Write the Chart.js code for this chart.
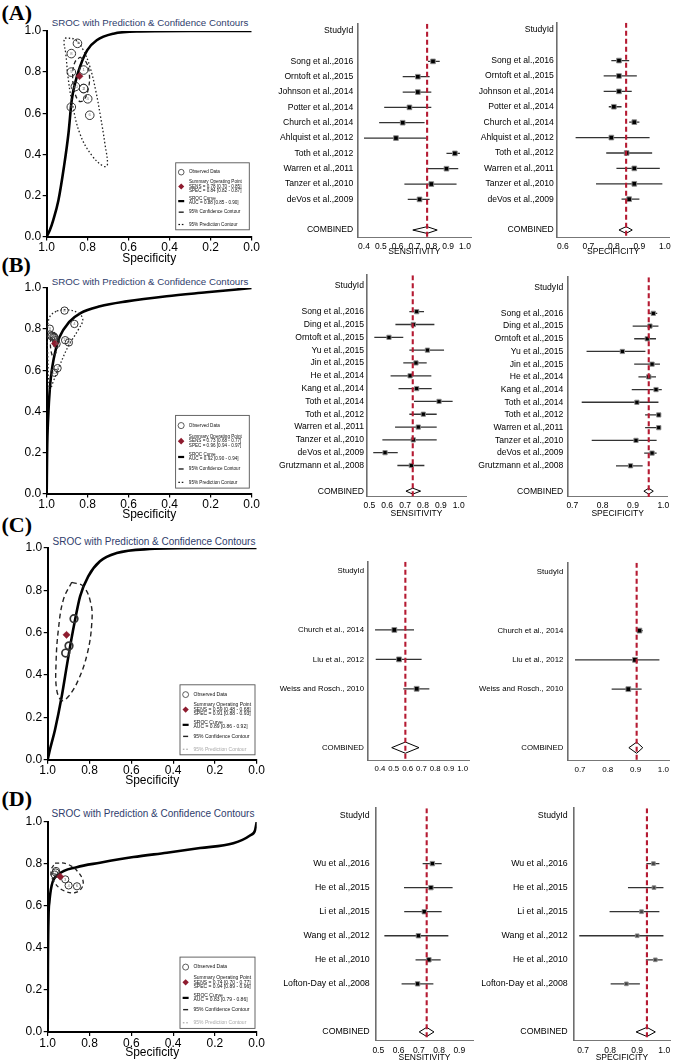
<!DOCTYPE html>
<html><head><meta charset="utf-8">
<script src="https://cdn.jsdelivr.net/npm/chart.js@4.4.1/dist/chart.umd.min.js"></script>
<style>
html,body{margin:0;padding:0;background:#fff}
body{position:relative;width:675px;height:1062px;overflow:hidden}
canvas{position:absolute}
.plab{position:absolute;font-family:"Liberation Serif","Times New Roman",serif;font-weight:bold;font-size:22px;line-height:22px;color:#000;white-space:nowrap}
.stitle{position:absolute;font-family:"Liberation Sans",Arial,sans-serif;color:#2f3d6c;white-space:nowrap;transform:translate(-50%,-50%);line-height:1}
</style></head><body>
<script>
// ================= DATA =================
// ---- Panel A ----
const studiesA = ["Song et al.,2016","Orntoft et al.,2015","Johnson et al.,2014","Potter et al.,2014","Church et al.,2014","Ahlquist et al.,2012","Toth et al.,2012","Warren et al.,2011","Tanzer et al.,2010","deVos et al.,2009"];
const sensA   = [0.81,0.72,0.72,0.67,0.63,0.59,0.94,0.89,0.80,0.73];
const sensLoA = [0.78,0.63,0.63,0.52,0.49,0.40,0.89,0.78,0.64,0.66];
const sensHiA = [0.85,0.79,0.80,0.80,0.76,0.77,0.97,0.96,0.95,0.79];
const specA   = [0.82,0.82,0.82,0.80,0.88,0.79,0.85,0.88,0.88,0.86];
const specLoA = [0.79,0.76,0.76,0.78,0.86,0.65,0.77,0.81,0.73,0.83];
const specHiA = [0.86,0.89,0.87,0.83,0.90,0.94,0.95,0.98,0.99,0.90];
const combSensA = [0.775,0.69,0.835];
const combSpecA = [0.848,0.82,0.872];
const legSensA = [0.78,0.70,0.85], legSpecA = [0.84,0.82,0.87], legAucA = [0.88,0.85,0.90];
const curveSpecA = [1.0,0.985,0.968,0.943,0.916,0.894,0.878,0.862,0.838,0.802,0.756,0.675,0.545,0.30,0.0];
const curveSensA = [0.0,0.03,0.08,0.175,0.338,0.5,0.663,0.744,0.825,0.907,0.955,0.987,0.998,1.0,1.0];
const predSpecA = [0.911,0.862,0.821,0.789,0.761,0.737,0.716,0.704,0.724,0.78,0.838,0.878,0.896,0.907,0.916,0.911];
const predSensA = [0.966,0.958,0.906,0.825,0.711,0.581,0.451,0.346,0.342,0.395,0.50,0.662,0.776,0.89,0.946,0.966];
const confSpecA = [0.838,0.808,0.792,0.797,0.821,0.846,0.867,0.873,0.862,0.838];
const confSensA = [0.873,0.849,0.792,0.719,0.662,0.662,0.719,0.792,0.849,0.873];

// ---- Panel B ----
const studiesB = ["Song et al.,2016","Ding et al.,2015","Orntoft et al.,2015","Yu et al.,2015","Jin et al.,2015","He et al.,2014","Kang et al.,2014","Toth et al.,2014","Toth et al.,2012","Warren et al.,2011","Tanzer et al.,2010","deVos et al.,2009","Grutzmann et al.,2008"];
const sensB   = [0.765,0.746,0.610,0.825,0.761,0.728,0.765,0.890,0.802,0.774,0.746,0.588,0.735];
const sensLoB = [0.724,0.646,0.528,0.724,0.690,0.619,0.663,0.750,0.724,0.644,0.573,0.522,0.657];
const sensHiB = [0.806,0.864,0.690,0.918,0.821,0.847,0.849,0.966,0.877,0.877,0.877,0.659,0.808];
const specB   = [0.967,0.956,0.947,0.865,0.963,0.952,0.976,0.913,0.985,0.985,0.910,0.963,0.892];
const specLoB = [0.951,0.899,0.904,0.747,0.904,0.918,0.896,0.731,0.940,0.940,0.764,0.937,0.844];
const specHiB = [0.980,0.984,0.976,0.941,0.989,0.976,0.995,0.984,0.991,0.991,0.978,0.978,0.932];
const combSensB = [0.743,0.705,0.787];
const combSpecB = [0.952,0.936,0.967];
const legSensB = [0.73,0.68,0.77], legSpecB = [0.96,0.94,0.97], legAucB = [0.92,0.90,0.94];
const curveSpecB = [1.0,0.998,0.993,0.984,0.972,0.958,0.938,0.89,0.835,0.74,0.61,0.415,0.22,0.0];
const curveSensB = [0.0,0.2,0.367,0.52,0.62,0.691,0.76,0.835,0.878,0.911,0.935,0.96,0.979,1.0];
const predSpecB = [0.951,0.902,0.846,0.824,0.846,0.895,0.935,0.968,0.984,0.99,0.995,0.997,0.984,0.951];
const predSensB = [0.889,0.894,0.878,0.846,0.797,0.716,0.627,0.545,0.505,0.545,0.675,0.789,0.862,0.889];
const confSpecB = [0.964,0.948,0.951,0.968,0.98,0.979,0.964];
const confSensB = [0.786,0.757,0.70,0.667,0.70,0.757,0.786];

// ---- Panel C ----
const studiesC = ["Church et al., 2014","Liu et al., 2012","Weiss and Rosch., 2010"];
const sensC   = [0.504,0.538,0.666];
const sensLoC = [0.364,0.369,0.569];
const sensHiC = [0.647,0.702,0.758];
const specC   = [0.914,0.898,0.874];
const specLoC = [0.902,0.682,0.814];
const specHiC = [0.926,0.986,0.922];
const combSensC = [0.584,0.485,0.683];
const combSpecC = [0.904,0.876,0.926];
const legSensC = [0.59,0.48,0.68], legSpecC = [0.91,0.88,0.93], legAucC = [0.89,0.86,0.92];
const curveSpecC = [1.0,0.99,0.965,0.933,0.909,0.89,0.869,0.845,0.806,0.75,0.67,0.511,0.25,0.0];
const curveSensC = [0.0,0.045,0.142,0.299,0.441,0.551,0.661,0.772,0.866,0.937,0.976,0.995,1.0,1.0];
const confSpecC = [0.885,0.83,0.794,0.789,0.81,0.853,0.901,0.933,0.957,0.96,0.949,0.925,0.885];
const confSensC = [0.838,0.819,0.74,0.646,0.504,0.378,0.299,0.28,0.331,0.457,0.614,0.756,0.838];

// ---- Panel D ----
const studiesD = ["Wu et al.,2016","He et al.,2015","Li et al.,2015","Wang et al.,2012","He et al.,2010","Lofton-Day et al.,2008"];
const sensD   = [0.767,0.760,0.727,0.698,0.750,0.694];
const sensLoD = [0.719,0.627,0.628,0.530,0.684,0.615];
const sensHiD = [0.813,0.867,0.813,0.846,0.808,0.772];
const specD   = [0.960,0.962,0.916,0.900,0.967,0.860];
const specLoD = [0.934,0.866,0.798,0.686,0.932,0.802];
const specHiD = [0.982,0.997,0.982,0.997,0.994,0.910];
const combSensD = [0.739,0.702,0.775];
const combSpecD = [0.936,0.896,0.967];
const legSensD = [0.74,0.70,0.77], legSpecD = [0.94,0.89,0.96], legAucD = [0.83,0.79,0.86];
const curveSpecD = [1.0,0.999,0.996,0.992,0.981,0.949,0.861,0.75,0.59,0.43,0.271,0.112,0.032,0.008,0.0];
const curveSensD = [0.0,0.3,0.55,0.618,0.698,0.749,0.785,0.806,0.833,0.854,0.876,0.899,0.936,0.96,1.0];
const confSpecD = [0.965,0.909,0.854,0.83,0.861,0.925,0.973,0.984,0.965];
const confSensD = [0.804,0.801,0.761,0.706,0.666,0.674,0.721,0.769,0.804];

// ---- tick labels ----
const srocTicks = [0.0,0.2,0.4,0.6,0.8,1.0];
const sensTicksA = [0.4,0.5,0.6,0.7,0.8,0.9,1.0];
const specTicksA = [0.6,0.7,0.8,0.9,1.0];
const sensTicksB = [0.5,0.6,0.7,0.8,0.9,1.0];
const specTicksB = [0.7,0.8,0.9,1.0];
const sensTicksC = [0.4,0.5,0.6,0.7,0.8,0.9,1.0];
const specTicksC = [0.7,0.8,0.9,1.0];
const sensTicksD = [0.5,0.6,0.7,0.8,0.9];
const specTicksD = [0.7,0.8,0.9,1.0];

// ================= RENDERING =================
const FONT = '"Liberation Sans", Arial, Helvetica, sans-serif';
Chart.defaults.font.family = FONT;
Chart.defaults.color = '#000';
Chart.defaults.animation = false;
const RED = '#b51a32', DRED = '#8e1b2e';

function mkCanvas(x, y, w, h) {
  const c = document.createElement('canvas');
  c.width = w; c.height = h;
  c.style.left = x + 'px'; c.style.top = y + 'px';
  c.style.width = w + 'px'; c.style.height = h + 'px';
  document.body.appendChild(c);
  return c;
}
function addDiv(cls, text, x, y, extra) {
  const d = document.createElement('div');
  d.className = cls; d.textContent = text;
  d.style.left = x + 'px'; d.style.top = y + 'px';
  Object.assign(d.style, extra || {});
  document.body.appendChild(d);
}
const zip = (xs, ys) => xs.map((x, i) => ({x, y: ys[i]}));
const f2 = v => v.toFixed(2);

function legendPlugin(o) {
  return {
    id: 'srocLegend',
    afterDatasetsDraw(chart) {
      const ctx = chart.ctx;
      chart.data.datasets.forEach((ds, di) => {
        if (!ds.numbered) return;
        const meta = chart.getDatasetMeta(di);
        ctx.save();
        ctx.font = '4.2px ' + FONT; ctx.fillStyle = '#777';
        ctx.textAlign = 'center'; ctx.textBaseline = 'middle';
        meta.data.forEach((pt, i) => ctx.fillText(String(i + 1), pt.x, pt.y));
        ctx.restore();
      });
    },
    afterDraw(chart) {
      const ctx = chart.ctx, ca = chart.chartArea;
      const R = ca.right - o.dr, B = ca.bottom - o.db, L = R - o.w, T = B - o.h;
      const Y = fr => T + o.h * fr;
      const sx = L + o.w * 0.075, tx = L + o.w * 0.18, mw = R - tx - 2;
      ctx.save();
      ctx.fillStyle = '#fff'; ctx.fillRect(L, T, o.w, o.h);
      ctx.strokeStyle = '#555'; ctx.lineWidth = 0.9; ctx.strokeRect(L, T, o.w, o.h);
      ctx.font = o.fs + 'px ' + FONT; ctx.textBaseline = 'middle'; ctx.textAlign = 'left';
      ctx.fillStyle = '#111';
      ctx.beginPath(); ctx.arc(sx, Y(0.14), o.h * 0.042, 0, Math.PI * 2);
      ctx.strokeStyle = '#333'; ctx.lineWidth = 0.8; ctx.stroke();
      ctx.fillText('Observed Data', tx, Y(0.14), mw);
      const d = o.h * 0.045, sy = Y(0.354);
      ctx.beginPath(); ctx.moveTo(sx, sy - d); ctx.lineTo(sx + d, sy); ctx.lineTo(sx, sy + d); ctx.lineTo(sx - d, sy); ctx.closePath();
      ctx.fillStyle = DRED; ctx.fill();
      ctx.fillStyle = '#111';
      ctx.fillText('Summary Operating Point', tx, Y(0.29), mw);
      ctx.fillText('SENS = ' + f2(o.sens[0]) + ' [' + f2(o.sens[1]) + ' - ' + f2(o.sens[2]) + ']', tx, Y(0.354), mw);
      ctx.fillText('SPEC = ' + f2(o.spec[0]) + ' [' + f2(o.spec[1]) + ' - ' + f2(o.spec[2]) + ']', tx, Y(0.413), mw);
      ctx.fillStyle = '#000'; ctx.fillRect(sx - 3, Y(0.572) - 1.1, 6, 2.2);
      ctx.fillStyle = '#111';
      ctx.fillText('SROC Curve', tx, Y(0.537), mw);
      ctx.fillText('AUC = ' + f2(o.auc[0]) + ' [' + f2(o.auc[1]) + ' - ' + f2(o.auc[2]) + ']', tx, Y(0.597), mw);
      ctx.fillStyle = '#222'; ctx.fillRect(sx - 2.5, Y(0.737) - 0.7, 5, 1.4);
      ctx.fillStyle = '#111';
      ctx.fillText('95% Confidence Contour', tx, Y(0.737), mw);
      ctx.fillStyle = o.predColor;
      ctx.fillRect(sx - 2.8, Y(0.921) - 0.6, 1.6, 1.2);
      ctx.fillRect(sx + 0.6, Y(0.921) - 0.6, 1.6, 1.2);
      ctx.fillText('95% Prediction Contour', tx, Y(0.921), mw);
      ctx.restore();
    }
  };
}

function sroc(c) {
  const left = 0, top = c.t - 12, w = 268;
  const xH = c.titleY - c.b + 7.2;
  const h = Math.ceil(c.b - top + xH);
  const cv = mkCanvas(left, top, w, h);
  const ds = [];
  ds.push({data: zip(c.curve[0], c.curve[1]), showLine: true, borderColor: '#000', borderWidth: 2.6,
           pointRadius: 0, cubicInterpolationMode: 'monotone', order: 5});
  if (c.pred) ds.push({data: zip(c.pred[0], c.pred[1]), showLine: true, borderColor: '#222', borderWidth: 1.3,
           borderDash: [1.5, 2.2], pointRadius: 0, tension: 0.4, order: 4});
  if (c.conf) ds.push({data: zip(c.conf[0], c.conf[1]), showLine: true, borderColor: '#222', borderWidth: c.confW,
           borderDash: c.confDash, pointRadius: 0, tension: 0.4, order: 3});
  ds.push({data: zip(c.obs[0], c.obs[1]), pointRadius: c.or, pointBackgroundColor: 'rgba(255,255,255,0)',
           pointBorderColor: '#333', pointBorderWidth: c.ow, order: 2, numbered: c.numbered});
  ds.push({data: [{x: c.sum[0], y: c.sum[1]}], pointStyle: 'rectRot', pointRadius: 3.6,
           pointBackgroundColor: DRED, pointBorderColor: DRED, pointBorderWidth: 0.5, order: 1});
  new Chart(cv, {
    type: 'scatter',
    data: {datasets: ds},
    options: {
      responsive: false, devicePixelRatio: 1, animation: false, events: [],
      layout: {padding: {left: 0, top: c.t - top, right: left + w - c.r, bottom: 0}},
      plugins: {legend: {display: false}, tooltip: {enabled: false}},
      scales: {
        x: {type: 'linear', reverse: true, min: 0, max: 1,
            afterBuildTicks: a => { a.ticks = srocTicks.map(v => ({value: v})); },
            afterFit: s => { s.height = xH; },
            ticks: {callback: v => v.toFixed(1), font: {size: 12}, color: '#000', padding: 0, maxRotation: 0, autoSkip: false},
            grid: {display: true, drawOnChartArea: false, drawTicks: true, tickLength: 4, color: '#000', lineWidth: 1.2},
            border: {display: true, color: '#000', width: 2},
            title: {display: true, text: 'Specificity', font: {size: 12}, color: '#000', padding: 0}},
        y: {type: 'linear', min: 0, max: 1,
            afterBuildTicks: a => { a.ticks = srocTicks.map(v => ({value: v})); },
            afterFit: s => { s.width = c.l - left; },
            ticks: {callback: v => v.toFixed(1), font: {size: 12}, color: '#000', padding: 1.5, autoSkip: false},
            grid: {display: true, drawOnChartArea: false, drawTicks: true, tickLength: 4, color: '#000', lineWidth: 1.2},
            border: {display: true, color: '#000', width: 2}}
      }
    },
    plugins: [legendPlugin(c.legend)]
  });
}

function forest(c) {
  const top = c.t - 8;
  const xH = c.title ? (c.titleY - c.b + 5.1) : 14;
  const h = Math.ceil(c.b - top + xH);
  const w = c.cr - c.cx;
  const cv = mkCanvas(c.cx, top, w, h);
  const rowLabels = ['StudyId', ''].concat(c.studies, ['', 'COMBINED']);
  const combRow = rowLabels.length - 1;
  const ds = [];
  ds.push({data: [{x: c.comb[0], y: c.ymin}, {x: c.comb[0], y: c.ymax}], showLine: true, borderColor: RED,
           borderWidth: 2.1, borderDash: [5, 3], pointRadius: 0, order: 0});
  c.est.forEach((v, i) => {
    ds.push({data: [{x: c.lo[i], y: i + 2}, {x: c.hi[i], y: i + 2}], showLine: true, borderColor: '#333',
             borderWidth: 1.3, pointRadius: 0, order: 4});
  });
  ds.push({data: c.est.map((v, i) => ({x: v, y: i + 2})), pointStyle: 'rect', pointRadius: c.pr,
           pointBackgroundColor: c.pc, pointBorderColor: '#8c8c8c', pointBorderWidth: 0.9, order: 2});
  const [e, lo, hi] = c.comb;
  ds.push({data: [{x: lo, y: combRow}, {x: e, y: combRow - c.dh}, {x: hi, y: combRow}, {x: e, y: combRow + c.dh}, {x: lo, y: combRow}],
           showLine: true, borderColor: '#000', borderWidth: 1, pointRadius: 0, tension: 0, order: 1});
  new Chart(cv, {
    type: 'scatter',
    data: {datasets: ds},
    options: {
      responsive: false, devicePixelRatio: 1, animation: false, events: [],
      layout: {padding: {left: 0, top: c.t - top, right: c.cr - c.r, bottom: 0}},
      plugins: {legend: {display: false}, tooltip: {enabled: false}},
      scales: {
        x: {type: 'linear', min: c.xmin, max: c.xmax,
            afterBuildTicks: a => { a.ticks = c.ticks.map(v => ({value: v})); },
            afterFit: s => { s.height = xH; },
            ticks: {callback: v => v.toFixed(1), font: {size: c.tfs}, color: '#000', padding: c.tickPad, maxRotation: 0, autoSkip: false},
            grid: {display: false, drawTicks: false},
            border: {display: true, color: '#777', width: 1},
            title: {display: !!c.title, text: c.title || '', font: {size: 8.5}, color: '#000', padding: 0}},
        y: {type: 'linear', reverse: true, min: c.ymin, max: c.ymax,
            afterBuildTicks: a => { a.ticks = rowLabels.map((t, i) => ({value: i})).filter(t => rowLabels[t.value] !== ''); },
            afterFit: s => { s.width = c.l - c.cx; },
            ticks: {callback: v => rowLabels[v], font: {size: c.lfs}, color: '#000', padding: c.labPad, autoSkip: false},
            grid: {display: false, drawTicks: false},
            border: {display: true, color: '#6e6e6e', width: 1.6}}
      }
    }
  });
}

// ---------- panel labels & titles ----------
addDiv('plab', '(A)', 1.5, 2);
addDiv('plab', '(B)', 1.5, 254);
addDiv('plab', '(C)', 1.5, 513.5);
addDiv('plab', '(D)', 1.5, 788);
addDiv('stitle', 'SROC with Prediction & Confidence Contours', 150, 22.7, {fontSize: '9.7px'});
addDiv('stitle', 'SROC with Prediction & Confidence Contours', 150, 281.7, {fontSize: '9.7px'});
addDiv('stitle', 'SROC with Prediction & Confidence Contours', 154, 541.7, {fontSize: '10px'});
addDiv('stitle', 'SROC with Prediction & Confidence Contours', 153, 814, {fontSize: '10px'});

// ---------- SROC charts ----------
sroc({l: 46.7, t: 30.7, r: 251.7, b: 236, titleY: 258.3,
      curve: [curveSpecA, curveSensA], pred: [predSpecA, predSensA], conf: [confSpecA, confSensA],
      confDash: [4, 3], confW: 1.3, obs: [specA, sensA], sum: [legSpecA[0], legSensA[0]], or: 4.3, ow: 1, numbered: true,
      legend: {w: 73.6, h: 67, dr: 2.4, db: 6.7, fs: 4.6, sens: legSensA, spec: legSpecA, auc: legAucA, predColor: '#111'}});
sroc({l: 46.7, t: 288.3, r: 251.7, b: 493.7, titleY: 515,
      curve: [curveSpecB, curveSensB], pred: [predSpecB, predSensB], conf: [confSpecB, confSensB],
      confDash: [4, 3], confW: 1.3, obs: [specB, sensB], sum: [legSpecB[0], legSensB[0]], or: 3.7, ow: 1, numbered: true,
      legend: {w: 73.7, h: 72.7, dr: 2.4, db: 5.4, fs: 4.6, sens: legSensB, spec: legSpecB, auc: legAucB, predColor: '#111'}});
sroc({l: 47.7, t: 548.3, r: 256.7, b: 760, titleY: 781,
      curve: [curveSpecC, curveSensC], pred: null, conf: [confSpecC, confSensC],
      confDash: [5, 3.5], confW: 1.4, obs: [specC, sensC], sum: [legSpecC[0], legSensC[0]], or: 3.8, ow: 1.7, numbered: false,
      legend: {w: 75, h: 70, dr: 1.7, db: 5, fs: 5, sens: legSensC, spec: legSpecC, auc: legAucC, predColor: '#aaa'}});
sroc({l: 47.7, t: 821.7, r: 256.7, b: 1031, titleY: 1051.7,
      curve: [curveSpecD, curveSensD], pred: null, conf: [confSpecD, confSensD],
      confDash: [4, 3], confW: 1.3, obs: [specD, sensD], sum: [legSpecD[0], legSensD[0]], or: 3.6, ow: 1, numbered: true,
      legend: {w: 75, h: 71.3, dr: 1.7, db: 3.7, fs: 5, sens: legSensD, spec: legSpecD, auc: legAucD, predColor: '#aaa'}});

// ---------- Forest plots ----------
forest({cx: 270, cr: 481, l: 357.7, r: 471, t: 22, b: 236.9, xmin: 0.3626, xmax: 1.0358, ymin: -0.46, ymax: 13.46,
        ticks: sensTicksA, studies: studiesA, est: sensA, lo: sensLoA, hi: sensHiA, comb: combSensA,
        title: 'SENSITIVITY', titleY: 251.7, tickPad: 4, labPad: 4.5, dh: 0.22, pr: 3.3, pc: '#000', lfs: 8.6, tfs: 8.5});
forest({cx: 470, cr: 675, l: 557.3, r: 672, t: 22, b: 236.9, xmin: 0.5782, xmax: 1.0172, ymin: -0.46, ymax: 13.46,
        ticks: specTicksA, studies: studiesA, est: specA, lo: specLoA, hi: specHiA, comb: combSpecA,
        title: 'SPECIFICITY', titleY: 251.7, tickPad: 4, labPad: 3.5, dh: 0.22, pr: 3.3, pc: '#000', lfs: 8.6, tfs: 8.5});
forest({cx: 270, cr: 476, l: 367, r: 466, t: 275.1, b: 497, xmin: 0.4871, xmax: 1.0408, ymin: -0.85, ymax: 16.45,
        ticks: sensTicksB, studies: studiesB, est: sensB, lo: sensLoB, hi: sensHiB, comb: combSensB,
        title: 'SENSITIVITY', titleY: 514, tickPad: 4, labPad: 3, dh: 0.23, pr: 3.0, pc: '#000', lfs: 8.6, tfs: 8.5});
forest({cx: 470, cr: 675, l: 568.3, r: 667, t: 275.1, b: 497, xmin: 0.6868, xmax: 1.0122, ymin: -0.85, ymax: 16.45,
        ticks: specTicksB, studies: studiesB, est: specB, lo: specLoB, hi: specHiB, comb: combSpecB,
        title: 'SPECIFICITY', titleY: 514, tickPad: 4, labPad: 5, dh: 0.23, pr: 3.0, pc: '#000', lfs: 8.6, tfs: 8.5});
forest({cx: 270, cr: 480, l: 368, r: 469.3, t: 561, b: 759.3, xmin: 0.3129, xmax: 1.048, ymin: -0.32, ymax: 6.42,
        ticks: sensTicksC, studies: studiesC, est: sensC, lo: sensLoC, hi: sensHiC, comb: combSensC,
        title: null, tickPad: 4.5, labPad: 4, dh: 0.19, pr: 3.4, pc: '#000', lfs: 7.8, tfs: 7.8});
forest({cx: 470, cr: 675, l: 568.3, r: 669, t: 561, b: 759.3, xmin: 0.6579, xmax: 1.0205, ymin: -0.32, ymax: 6.42,
        ticks: specTicksC, studies: studiesC, est: specC, lo: specLoC, hi: specHiC, comb: combSpecC,
        title: null, tickPad: 4.5, labPad: 5, dh: 0.19, pr: 3.4, pc: '#000', lfs: 7.8, tfs: 8});
forest({cx: 270, cr: 484, l: 375.7, r: 473.3, t: 805, b: 1040, xmin: 0.4872, xmax: 0.9692, ymin: -0.3, ymax: 9.36,
        ticks: sensTicksD, studies: studiesD, est: sensD, lo: sensLoD, hi: sensHiD, comb: combSensD,
        title: 'SENSITIVITY', titleY: 1057.3, tickPad: 4.5, labPad: 6, dh: 0.19, pr: 3.1, pc: '#000', lfs: 8.8, tfs: 8.5});
forest({cx: 470, cr: 675, l: 573.7, r: 672.7, t: 805, b: 1040, xmin: 0.6655, xmax: 1.0216, ymin: -0.3, ymax: 9.36,
        ticks: specTicksD, studies: studiesD, est: specD, lo: specLoD, hi: specHiD, comb: combSpecD,
        title: 'SPECIFICITY', titleY: 1057.3, tickPad: 4.5, labPad: 6, dh: 0.19, pr: 2.6, pc: '#444', lfs: 8.8, tfs: 8.5});
</script>
</body></html>
